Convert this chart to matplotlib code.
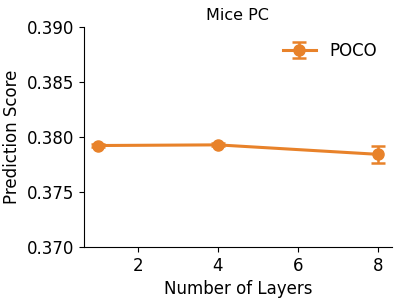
import matplotlib
matplotlib.use('Agg')
import matplotlib.pyplot as plt

# data
layers = [1, 4, 8]
scores = [0.37922, 0.37928, 0.37842]
errors = [0.00012, 0.00014, 0.00078]
label = 'POCO'
color = '#E8822A'

fig = plt.figure(figsize=(3.99, 2.99), dpi=100)
ax = fig.add_axes([0.21, 0.174, 0.772, 0.736])

ax.errorbar(layers, scores, yerr=errors, color=color, marker='o',
            markersize=8, linewidth=2.2, capsize=5, capthick=1.8,
            elinewidth=1.8, label=label)

ax.set_ylim(0.370, 0.390)
ax.set_yticks([0.370, 0.375, 0.380, 0.385, 0.390])
ax.set_xticks([2, 4, 6, 8])
ax.tick_params(labelsize=12)
ax.set_xlabel('Number of Layers', fontsize=12)
ax.set_ylabel('Prediction Score', fontsize=12)
ax.set_title('Mice PC', fontsize=11.5, pad=5)
ax.spines['top'].set_visible(False)
ax.spines['right'].set_visible(False)
ax.legend(frameon=False, fontsize=12, loc='upper right')

fig.savefig('out.png', dpi=100)
